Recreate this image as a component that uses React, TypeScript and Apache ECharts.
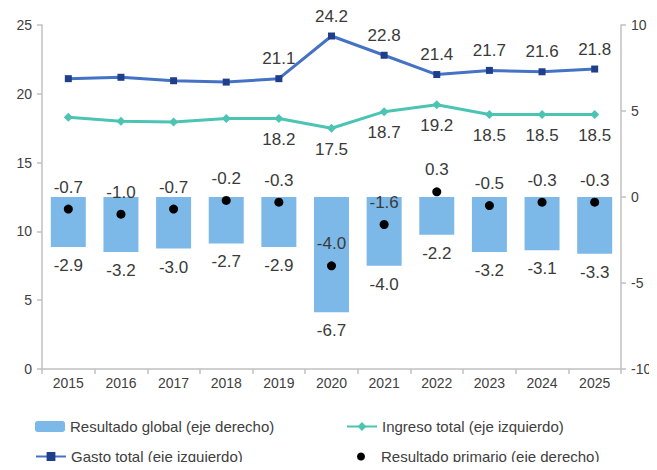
import React, { useEffect, useRef } from "react";
import * as echarts from "echarts";

const years = ["2015", "2016", "2017", "2018", "2019", "2020", "2021", "2022", "2023", "2024", "2025"];
const resultadoGlobal = [-2.9, -3.2, -3.0, -2.7, -2.9, -6.7, -4.0, -2.2, -3.2, -3.1, -3.3];
const ingresoTotal = [18.3, 18.0, 17.95, 18.2, 18.2, 17.5, 18.7, 19.2, 18.5, 18.5, 18.5];
const gastoTotal = [21.1, 21.2, 20.95, 20.85, 21.1, 24.2, 22.8, 21.4, 21.7, 21.6, 21.8];
const resultadoPrimario = [-0.7, -1.0, -0.7, -0.2, -0.3, -4.0, -1.6, 0.3, -0.5, -0.3, -0.3];
const firstLabeledYear = "2019";

const NAME_GLOBAL = "Resultado global (eje derecho)";
const NAME_INGRESO = "Ingreso total (eje izquierdo)";
const NAME_GASTO = "Gasto total (eje izquierdo)";
const NAME_PRIMARIO = "Resultado primario (eje derecho)";

const TEXT = "#3a3a3a";
const AXIS = "#c0c0c0";
const FONT = "Liberation Sans, Arial, sans-serif";

export default function App() {
  const ref = useRef<HTMLDivElement>(null);
  useEffect(() => {
    if (!ref.current) return;
    const chart = echarts.init(ref.current, undefined, { renderer: "svg" });
    const startIdx = years.indexOf(firstLabeledYear);
    const labelled = (vals: number[]) =>
      vals.map((v, i) => ({ value: v, label: { show: i >= startIdx } }));
    const dataLabel = {
      fontSize: 17,
      color: TEXT,
      fontFamily: FONT,
      opacity: 1,
      formatter: (p: any) => Number(p.value).toFixed(1),
    };
    const legendBase = {
      itemWidth: 30,
      itemHeight: 11,
      textStyle: { fontSize: 15, color: "#404040", fontFamily: FONT },
      selectedMode: false,
    };
    chart.setOption({
      animation: false,
      backgroundColor: "#ffffff",
      textStyle: { fontFamily: FONT },
      grid: { left: 42, right: 36, top: 25, bottom: 101, containLabel: false },
      legend: [
        { ...legendBase, left: 30, top: 414, data: [NAME_GLOBAL] },
        { ...legendBase, left: 341, top: 414, data: [NAME_INGRESO] },
        { ...legendBase, left: 30, top: 444, data: [NAME_GASTO] },
        { ...legendBase, left: 352, top: 444, itemHeight: 8, data: [NAME_PRIMARIO] },
      ],
      xAxis: {
        type: "category",
        data: years,
        boundaryGap: true,
        axisLine: { onZero: false, lineStyle: { color: AXIS, width: 1.5 } },
        axisTick: { show: true, length: 5, lineStyle: { color: AXIS, width: 1.5 } },
        axisLabel: { fontSize: 14, color: "#404040", margin: 7, fontFamily: FONT },
      },
      yAxis: [
        {
          type: "value",
          min: 0,
          max: 25,
          interval: 5,
          position: "left",
          splitLine: { show: false },
          axisLine: { show: true, lineStyle: { color: AXIS, width: 1.5 } },
          axisTick: { show: true, length: 5, lineStyle: { color: AXIS, width: 1.5 } },
          axisLabel: { fontSize: 14, color: "#404040", margin: 10, fontFamily: FONT },
        },
        {
          type: "value",
          min: -10,
          max: 10,
          interval: 5,
          position: "right",
          splitLine: { show: false },
          axisLine: { show: true, onZero: false, lineStyle: { color: AXIS, width: 1.5 } },
          axisTick: { show: true, length: 5, lineStyle: { color: AXIS, width: 1.5 } },
          axisLabel: { fontSize: 14, color: "#404040", margin: 10, fontFamily: FONT },
        },
      ],
      series: [
        {
          name: NAME_GLOBAL,
          type: "bar",
          yAxisIndex: 1,
          data: resultadoGlobal,
          barWidth: 35,
          itemStyle: { color: "#7db9e8" },
          label: { show: true, position: "bottom", distance: 10, ...dataLabel },
          z: 1,
        },
        {
          name: NAME_INGRESO,
          type: "line",
          yAxisIndex: 0,
          data: labelled(ingresoTotal),
          symbol: "diamond",
          symbolSize: 9,
          lineStyle: { color: "#4cc4b3", width: 3 },
          itemStyle: { color: "#4cc4b3" },
          label: { position: "bottom", distance: 8, ...dataLabel },
          z: 3,
        },
        {
          name: NAME_GASTO,
          type: "line",
          yAxisIndex: 0,
          data: labelled(gastoTotal),
          symbol: "rect",
          symbolSize: 7,
          lineStyle: { color: "#4472c4", width: 3 },
          itemStyle: { color: "#1f3f8a" },
          label: { position: "top", distance: 8, ...dataLabel },
          z: 3,
        },
        {
          name: NAME_PRIMARIO,
          type: "scatter",
          yAxisIndex: 1,
          data: resultadoPrimario,
          symbol: "circle",
          symbolSize: 9,
          itemStyle: { color: "#000000", opacity: 1 },
          label: { show: true, position: "top", distance: 9, ...dataLabel },
          z: 4,
        },
      ],
    });
    return () => chart.dispose();
  }, []);
  return <div ref={ref} style={{ width: 657, height: 470, margin: -8 }} />;
}
